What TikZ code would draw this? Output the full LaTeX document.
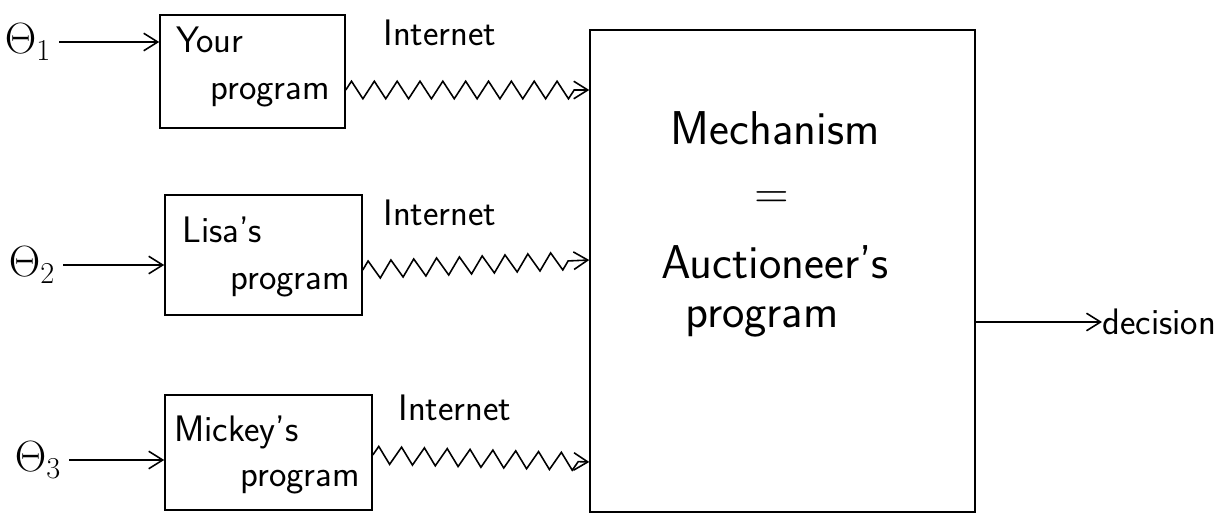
\documentclass[tikz,border=0pt]{standalone}
\usetikzlibrary{decorations.pathmorphing,arrows.meta}
\begin{document}
\begin{tikzpicture}[x=0.02cm,y=-0.02cm,
  hand/.style={line width=0.9pt,black},
  boxs/.style={hand,draw,inner sep=0pt},
  arr/.style={hand,-{Straight Barb[length=8pt,width=10pt]}},
  zz/.style={hand,decorate,decoration={zigzag,segment length=13pt,amplitude=5pt,post length=6pt},-{Straight Barb[length=8pt,width=10pt]}},
  lbl/.style={font=\sffamily\fontsize{21}{24}\selectfont,inner sep=0pt},
  big/.style={font=\sffamily\fontsize{27}{30}\selectfont,inner sep=0pt},
  th/.style={font=\fontsize{26}{30}\selectfont,inner sep=0pt}]
\useasboundingbox (0,0) rectangle (1230,524);
% inputs
\node[th] (t1) at (28,42) {$\Theta_1$};
\node[th] (t2) at (32,265) {$\Theta_2$};
\node[th] (t3) at (38,460) {$\Theta_3$};
% boxes
\node[boxs,minimum width=3.7cm,minimum height=2.26cm] (b1) at (252.5,71.5) {};
\node[boxs,minimum width=3.94cm,minimum height=2.4cm] (b2) at (263.5,255) {};
\node[boxs,minimum width=4.14cm,minimum height=2.3cm] (b3) at (268.5,452.5) {};
\node[lbl,anchor=west] (y1) at (176,40) {Your};
\node[lbl] (y2) at (270,95) {program};
\node[lbl,anchor=west] (l1) at (182,230) {Lisa's};
\node[lbl] (l2) at (290,285) {program};
\node[lbl,anchor=west] (m1) at (174,432) {Mickey's};
\node[lbl] (m2) at (300,482) {program};
% mechanism
\node[boxs,minimum width=7.7cm,minimum height=9.64cm] (mech) at (782.5,271) {};
\node[big] (k1) at (775,128) {Mechanism};
\node[big] (k2) at (772,200) {=};
\node[big] (k3) at (775,262) {Auctioneer's};
\node[big] (k4) at (762,322) {program};
\node[font=\sffamily\fontsize{21}{24}\selectfont,inner sep=0pt,anchor=west] (dec) at (1102,322) {decision};
% arrows
\draw[arr] (t1.east) ++(8,0) -- (b1.west |- t1.east);
\draw[arr] (t2.east) ++(8,0) -- (b2.west |- t2.east);
\draw[arr] (t3.east) ++(8,0) -- (b3.west |- t3.east);
\draw[arr] (mech.east |- dec.west) -- (dec.west);
% internet links
\draw[zz] (b1.east |- 0,90) -- (mech.west |- 0,90);
\draw[zz] (b2.east |- 0,270) -- (mech.west |- 0,260);
\draw[zz] (b3.east |- 0,455) -- (mech.west |- 0,462);
\node[lbl] (i1) at (440,33) {Internet};
\node[lbl] (i2) at (440,213) {Internet};
\node[lbl] (i3) at (455,408) {Internet};
\end{tikzpicture}
\end{document}
